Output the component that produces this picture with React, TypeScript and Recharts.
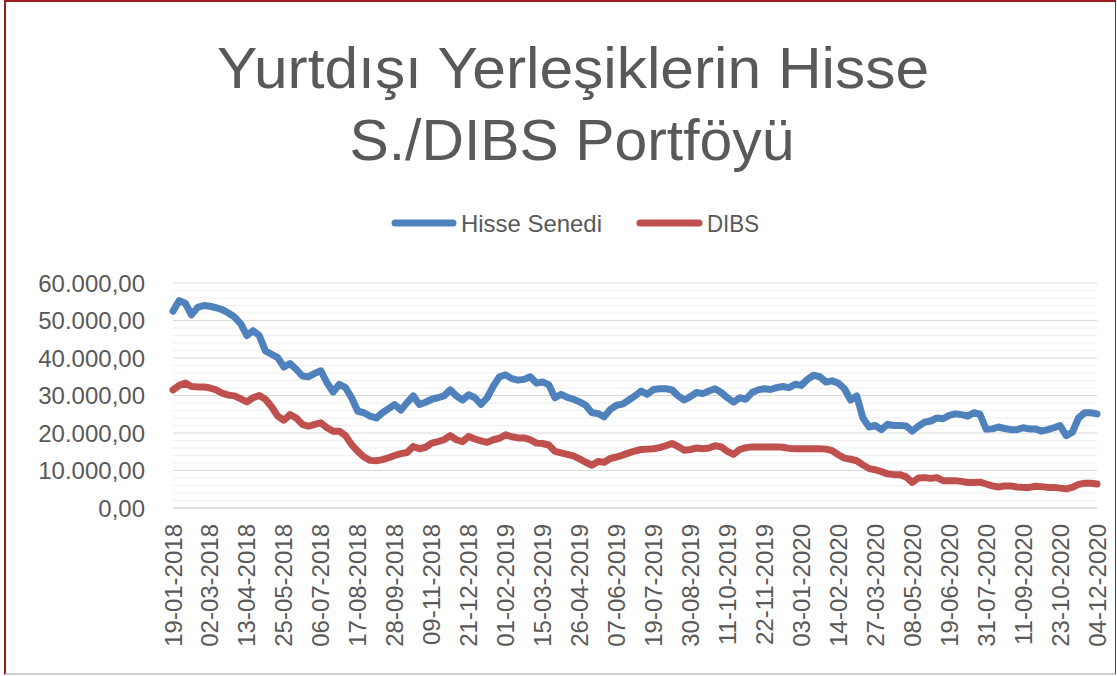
import { LineChart, Line, XAxis, YAxis, CartesianGrid } from 'recharts'

// weekly values, 19-01-2018 .. 04-12-2020
const startDate = '2018-01-19'

const hisseSenedi = [
  52500, 55300, 54600, 51500, 53500, 54000, 53800, 53400, 52900, 52000,
  50900, 49100, 46000, 47300, 46000, 41900, 41000, 40100, 37600, 38500,
  37000, 35200, 35000, 35900, 36600, 33400, 30900, 33000, 32100, 29400,
  25800, 25400, 24500, 24000, 25400, 26500, 27600, 26100, 28100, 29900,
  27600, 28200, 29000, 29400, 29900, 31500, 29900, 28800, 30200, 29400,
  27600, 29400, 32500, 35000, 35500, 34500, 34100, 34300, 35000, 33300,
  33600, 32900, 29400, 30300, 29500, 29000, 28300, 27400, 25400, 25200,
  24300, 26300, 27400, 27700, 28800, 29900, 31200, 30300, 31600, 31800,
  31800, 31500, 29900, 28800, 29700, 30800, 30500, 31200, 31800, 30800,
  29400, 28200, 29400, 29000, 30800, 31500, 31800, 31600, 32100, 32400,
  32100, 33000, 32700, 34300, 35400, 35000, 33600, 33900, 33300, 31800,
  28800, 29900, 24000, 21600, 22000, 20900, 22300, 22000, 22000, 21900,
  20500, 21800, 22900, 23200, 24000, 23800, 24700, 25100, 24900, 24500,
  25400, 25000, 21000, 21100, 21600, 21200, 20900, 20900, 21400, 21100,
  21100, 20500, 20900, 21400, 22000, 19300, 20200, 24000, 25400, 25400,
  25100,
]

const dibs = [
  31500, 32700, 33300, 32400, 32300, 32300, 32000, 31500, 30600, 30100,
  29900, 29100, 28300, 29400, 30000, 29000, 27000, 24500, 23400, 24900,
  24000, 22300, 21800, 22300, 22700, 21400, 20500, 20500, 19300, 16900,
  15100, 13600, 12700, 12600, 12900, 13400, 14000, 14500, 14800, 16400,
  15800, 16200, 17300, 17700, 18200, 19300, 18200, 17700, 19100, 18400,
  17900, 17500, 18200, 18600, 19500, 19000, 18700, 18700, 18200, 17300,
  17200, 16800, 15100, 14700, 14300, 13900, 13100, 12200, 11400, 12400,
  12200, 13200, 13600, 14100, 14700, 15200, 15600, 15700, 15800, 16100,
  16600, 17200, 16400, 15400, 15600, 16000, 15800, 16000, 16600, 16300,
  15100, 14300, 15600, 16100, 16300, 16300, 16300, 16300, 16300, 16200,
  15900, 15800, 15800, 15800, 15800, 15800, 15700, 15300, 14200, 13300,
  13000, 12600, 11500, 10500, 10200, 9700, 9100, 8900, 8900, 8300,
  6800, 8000, 8100, 7900, 8100, 7300, 7300, 7300, 7100, 6800,
  6800, 6900, 6400, 5900, 5600, 5900, 5900, 5600, 5500, 5500,
  5800, 5700, 5500, 5500, 5300, 5100, 5500, 6300, 6600, 6600,
  6400,
]

const tickLabels = [
  '19-01-2018', '02-03-2018', '13-04-2018', '25-05-2018', '06-07-2018', '17-08-2018',
  '28-09-2018', '09-11-2018', '21-12-2018', '01-02-2019', '15-03-2019', '26-04-2019',
  '07-06-2019', '19-07-2019', '30-08-2019', '11-10-2019', '22-11-2019', '03-01-2020',
  '14-02-2020', '27-03-2020', '08-05-2020', '19-06-2020', '31-07-2020', '11-09-2020',
  '23-10-2020', '04-12-2020',
]

// every 2.000 gets a grid line, every 10.000 a label
const yTicks = [
  0, 2000, 4000, 6000, 8000, 10000, 12000, 14000, 16000, 18000, 20000,
  22000, 24000, 26000, 28000, 30000, 32000, 34000, 36000, 38000, 40000,
  42000, 44000, 46000, 48000, 50000, 52000, 54000, 56000, 58000, 60000,
]

const TEXT = '#595959'
const BLUE = '#4f81bd'
const RED = '#c0504d'

function weekLabel(i: number) {
  const d = new Date(startDate + 'T00:00:00Z')
  d.setUTCDate(d.getUTCDate() + i * 7)
  const dd = String(d.getUTCDate()).padStart(2, '0')
  const mm = String(d.getUTCMonth() + 1).padStart(2, '0')
  return `${dd}-${mm}-${d.getUTCFullYear()}`
}

const data = hisseSenedi.map((v, i) => ({ date: weekLabel(i), hisse: v, dibs: dibs[i] }))

function formatTr(v: number) {
  const s = String(Math.round(v)).replace(/\B(?=(\d{3})+(?!\d))/g, '.')
  return `${s},00`
}

function XTick({ x, y, payload }: any) {
  return (
    <text
      x={x}
      y={y}
      transform={`rotate(-90, ${x}, ${y})`}
      textAnchor="end"
      dominantBaseline="central"
      fill={TEXT}
      fontSize={24}
      fontFamily="'Liberation Sans', Arial, sans-serif"
    >
      {payload.value}
    </text>
  )
}

function YTick({ x, y, payload }: any) {
  if (payload.value % 10000 !== 0) return null
  return (
    <text
      x={x}
      y={y}
      textAnchor="end"
      dominantBaseline="central"
      fill={TEXT}
      fontSize={24}
      fontFamily="'Liberation Sans', Arial, sans-serif"
    >
      {formatTr(payload.value)}
    </text>
  )
}

function GridLine(props: any) {
  const { x1, x2, y1, y2, index } = props
  const major = index % 5 === 0
  return <line x1={x1} x2={x2} y1={y1} y2={y2} stroke={major ? '#d9d9d9' : '#efefef'} strokeWidth={1} />
}

export default function App() {
  return (
    <div style={{ position: 'relative', width: 1117, height: 676, background: '#fff' }}>
      <style>{'body{margin:0}'}</style>
      <div
        style={{
          position: 'absolute',
          left: 4,
          top: 0,
          width: 1109,
          height: 671,
          borderTop: '2px solid #9e1b1b',
          borderLeft: '2px solid #9e1b1b',
          borderRight: '1px solid #9e1b1b',
          borderBottom: '2px solid #d0d0d0',
        }}
      />
      <svg
        width={1117}
        height={260}
        style={{ position: 'absolute', left: 0, top: 0, pointerEvents: 'none' }}
        fontFamily="'Liberation Sans Narrow', 'Liberation Sans', sans-serif"
      >
        <text x={573} y={88} textAnchor="middle" fontSize={58} fill={TEXT} textLength={712} lengthAdjust="spacingAndGlyphs">
          Yurtdışı Yerleşiklerin Hisse
        </text>
        <text x={572} y={160} textAnchor="middle" fontSize={58} fill={TEXT} textLength={445} lengthAdjust="spacingAndGlyphs">
          S./DIBS Portföyü
        </text>
        <line x1={395} x2={453} y1={223} y2={223} stroke={BLUE} strokeWidth={7} strokeLinecap="round" />
        <text x={461} y={232} fontSize={24} fill={TEXT} textLength={141} lengthAdjust="spacingAndGlyphs">
          Hisse Senedi
        </text>
        <line x1={640} x2={699} y1={223} y2={223} stroke={RED} strokeWidth={7} strokeLinecap="round" />
        <text x={707} y={232} fontSize={24} fill={TEXT} textLength={52} lengthAdjust="spacingAndGlyphs">
          DIBS
        </text>
      </svg>
      <div style={{ position: 'absolute', left: 0, top: 0 }}>
        <LineChart width={1117} height={676} data={data} margin={{ top: 283, right: 20, bottom: 0, left: 33 }}>
          <CartesianGrid vertical={false} horizontal={GridLine as any} />
          <XAxis
            dataKey="date"
            ticks={tickLabels}
            interval={0}
            tick={<XTick />}
            tickLine={false}
            tickMargin={10}
            axisLine={{ stroke: '#d0d0d0' }}
            height={168}
          />
          <YAxis
            domain={[0, 60000]}
            ticks={yTicks}
            interval={0}
            tick={<YTick />}
            tickLine={false}
            axisLine={false}
            tickMargin={22}
            width={140}
          />
          <Line
            type="linear"
            dataKey="dibs"
            stroke={RED}
            strokeWidth={7}
            dot={false}
            strokeLinejoin="round"
            strokeLinecap="round"
            isAnimationActive={false}
          />
          <Line
            type="linear"
            dataKey="hisse"
            stroke={BLUE}
            strokeWidth={7}
            dot={false}
            strokeLinejoin="round"
            strokeLinecap="round"
            isAnimationActive={false}
          />
        </LineChart>
      </div>
    </div>
  )
}
